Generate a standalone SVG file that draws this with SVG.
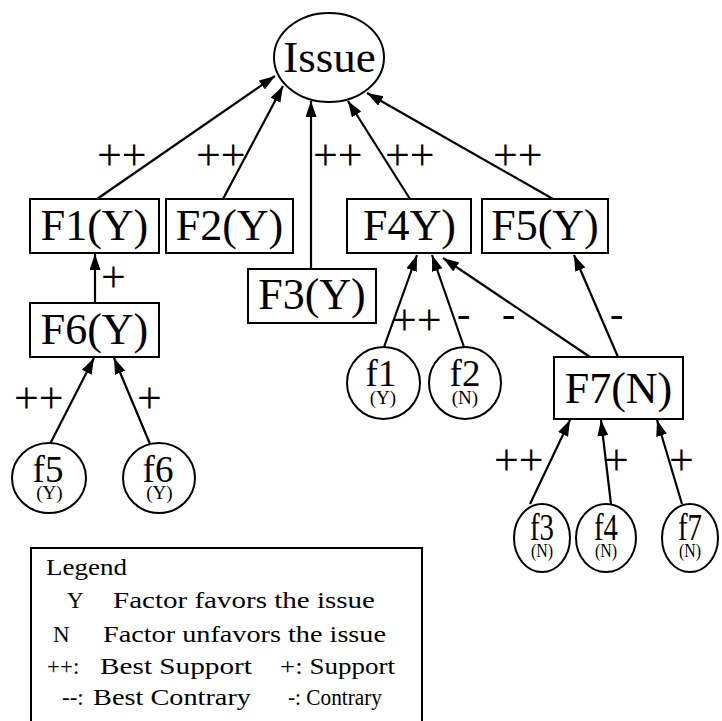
<svg xmlns="http://www.w3.org/2000/svg" width="722" height="721" viewBox="0 0 722 721">
<style>
.box{fill:#fff;stroke:#000;stroke-width:2}
.ell{fill:#fff;stroke:#000;stroke-width:2}
.big{font-family:"Liberation Serif","Times New Roman",serif;font-size:44px;fill:#000;text-anchor:middle}
.f{font-family:"Liberation Serif","Times New Roman",serif;font-size:37px;fill:#000;text-anchor:middle}
.s{font-family:"Liberation Serif","Times New Roman",serif;font-size:19px;fill:#000;text-anchor:middle}
.lab{font-family:"Liberation Serif","Times New Roman",serif;font-size:44px;fill:#000}
.leg{font-family:"Liberation Serif","Times New Roman",serif;font-size:23px;fill:#000}
.edge{stroke:#000;stroke-width:2.2;fill:none;marker-end:url(#arr)}
</style>
<defs>
<marker id="arr" markerUnits="userSpaceOnUse" markerWidth="18" markerHeight="12" refX="16" refY="5.5" orient="auto">
<path d="M0,0 L16,5.5 L0,11 Z" fill="#000"/>
</marker>
</defs>
<rect width="722" height="721" fill="#fff"/>
<g id="connectors">
<line class="edge" x1="97" y1="199" x2="275" y2="76"/>
<line class="edge" x1="223" y1="199" x2="283" y2="86"/>
<line class="edge" x1="311" y1="269" x2="311" y2="101"/>
<line class="edge" x1="410" y1="199" x2="348" y2="101"/>
<line class="edge" x1="553" y1="199" x2="367" y2="93"/>
<line class="edge" x1="95" y1="303" x2="95" y2="254"/>
<line class="edge" x1="50" y1="444" x2="94" y2="358"/>
<line class="edge" x1="150" y1="444" x2="114" y2="358"/>
<line class="edge" x1="384" y1="347" x2="417" y2="255"/>
<line class="edge" x1="464" y1="347" x2="432" y2="255"/>
<line class="edge" x1="590" y1="357" x2="443" y2="258"/>
<line class="edge" x1="618" y1="357" x2="574" y2="255"/>
<line class="edge" x1="530" y1="504" x2="570" y2="420"/>
<line class="edge" x1="611" y1="504" x2="601" y2="420"/>
<line class="edge" x1="682" y1="504" x2="657" y2="420"/>
</g>
<g id="labels">
<text class="lab" x="97" y="170">++</text>
<text class="lab" x="196" y="170">++</text>
<text class="lab" x="313" y="170">++</text>
<text class="lab" x="385" y="170">++</text>
<text class="lab" x="493" y="170">++</text>
<text class="lab" x="101" y="292">+</text>
<text class="lab" x="14" y="413">++</text>
<text class="lab" x="137" y="413">+</text>
<text class="lab" x="392" y="335">++</text>
<text class="lab" x="457" y="327" style="font-size:40px">-</text>
<text class="lab" x="502" y="327" style="font-size:40px">-</text>
<text class="lab" x="610" y="327" style="font-size:40px">-</text>
<text class="lab" x="494" y="475">++</text>
<text class="lab" x="604" y="475">+</text>
<text class="lab" x="669" y="475">+</text>
</g>
<g id="issue">
<ellipse class="ell" cx="329" cy="57.5" rx="55" ry="44.5"/>
<text class="big" x="329.5" y="72" style="font-size:45px">Issue</text>
</g>
<g id="F1"><rect class="box" x="30" y="199" width="129" height="54"/><text class="big" x="94.5" y="240">F1(Y)</text></g>
<g id="F2"><rect class="box" x="166" y="199" width="127" height="54"/><text class="big" x="229.5" y="240">F2(Y)</text></g>
<g id="F3"><rect class="box" x="248" y="269" width="128" height="54"/><text class="big" x="312" y="309">F3(Y)</text></g>
<g id="F4"><rect class="box" x="347" y="199" width="124" height="54"/><text class="big" x="409.5" y="240">F4Y)</text></g>
<g id="F5"><rect class="box" x="482" y="199" width="126" height="54"/><text class="big" x="545" y="240">F5(Y)</text></g>
<g id="F6"><rect class="box" x="30" y="303" width="129" height="54"/><text class="big" x="94.5" y="344">F6(Y)</text></g>
<g id="F7"><rect class="box" x="554" y="357" width="129" height="62"/><text class="big" x="618.5" y="403">F7(N)</text></g>
<g id="f5"><ellipse class="ell" cx="49" cy="478" rx="37" ry="35"/><text class="f" x="48" y="482">f5</text><text class="s" x="49.5" y="499">(Y)</text></g>
<g id="f6"><ellipse class="ell" cx="159" cy="478" rx="36" ry="35"/><text class="f" x="158" y="482">f6</text><text class="s" x="159.5" y="499">(Y)</text></g>
<g id="f1"><ellipse class="ell" cx="383.5" cy="383" rx="36.5" ry="36"/><text class="f" x="381" y="386">f1</text><text class="s" x="383" y="404">(Y)</text></g>
<g id="f2"><ellipse class="ell" cx="465" cy="383" rx="36" ry="36"/><text class="f" x="465" y="386">f2</text><text class="s" x="465" y="404">(N)</text></g>
<g id="f3"><ellipse class="ell" cx="542" cy="538" rx="28" ry="34"/><text class="f" x="542" y="540" textLength="24" lengthAdjust="spacingAndGlyphs">f3</text><text class="s" x="542" y="557" textLength="22" lengthAdjust="spacingAndGlyphs">(N)</text></g>
<g id="f4"><ellipse class="ell" cx="606" cy="538" rx="30" ry="34"/><text class="f" x="606" y="540" textLength="24" lengthAdjust="spacingAndGlyphs">f4</text><text class="s" x="606" y="557" textLength="22" lengthAdjust="spacingAndGlyphs">(N)</text></g>
<g id="f7"><ellipse class="ell" cx="690" cy="538" rx="28" ry="34"/><text class="f" x="690" y="540" textLength="24" lengthAdjust="spacingAndGlyphs">f7</text><text class="s" x="690" y="557" textLength="22" lengthAdjust="spacingAndGlyphs">(N)</text></g>
<g id="legend">
<rect x="31" y="548" width="391" height="200" fill="#fff" stroke="#000" stroke-width="2"/>
<text class="leg" x="46" y="575" textLength="81" lengthAdjust="spacingAndGlyphs">Legend</text>
<text class="leg" x="67" y="608">Y</text>
<text class="leg" x="113" y="608" textLength="262" lengthAdjust="spacingAndGlyphs">Factor  favors  the  issue</text>
<text class="leg" x="53" y="642">N</text>
<text class="leg" x="103" y="642" textLength="283" lengthAdjust="spacingAndGlyphs">Factor unfavors  the  issue</text>
<text class="leg" x="47" y="674">++:</text>
<text class="leg" x="100" y="674" textLength="152" lengthAdjust="spacingAndGlyphs">Best Support</text>
<text class="leg" x="280" y="674" textLength="115" lengthAdjust="spacingAndGlyphs">+: Support</text>
<text class="leg" x="62" y="705">--:</text>
<text class="leg" x="93" y="705" textLength="158" lengthAdjust="spacingAndGlyphs">Best Contrary</text>
<text class="leg" x="288" y="705" textLength="94" lengthAdjust="spacingAndGlyphs">-: Contrary</text>
</g>
</svg>
